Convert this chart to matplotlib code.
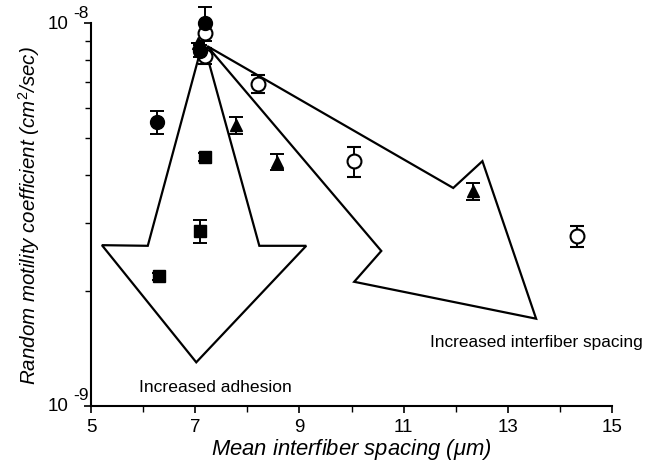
import numpy as np
import matplotlib
matplotlib.use("Agg")
import matplotlib.pyplot as plt
from matplotlib.patches import Polygon

plt.rcParams['font.family'] = ['Liberation Sans', 'DejaVu Sans']
plt.rcParams['mathtext.fontset'] = 'custom'
plt.rcParams['mathtext.rm'] = 'Liberation Sans'
plt.rcParams['mathtext.it'] = 'Liberation Sans:italic'

# datos (x en um, y en cm^2/sec)
circ_lleno_x = [6.27, 7.19, 7.09]
circ_lleno_y = [5.51e-9, 1.0e-8, 8.45e-9]
circ_lleno_err = [0.37e-9, 1.0e-9, 0.3e-9]

cuad_x = [7.19, 7.09, 6.30]
cuad_y = [4.47e-9, 2.86e-9, 2.18e-9]
cuad_err = [0.1e-9, 0.2e-9, 0.05e-9]

circ_vacio_x = [7.19, 7.19, 8.20, 10.05, 14.33]
circ_vacio_y = [9.42e-9, 8.2e-9, 6.93e-9, 4.36e-9, 2.78e-9]
circ_vacio_err = [0.0, 0.4e-9, 0.38e-9, 0.4e-9, 0.18e-9]

tri_x = [7.05, 7.78, 8.57, 12.33]
tri_y = [8.9e-9, 5.42e-9, 4.34e-9, 3.64e-9]
tri_err = [0.0, 0.28e-9, 0.2e-9, 0.19e-9]

# flechas (contornos) en coordenadas de datos
flecha_adhesion_x = [7.15, 6.09, 5.21, 7.02, 9.13, 8.23]
flecha_adhesion_y = [8.97e-9, 2.62e-9, 2.63e-9, 1.30e-9, 2.62e-9, 2.62e-9]
flecha_espaciado_x = [7.23, 10.57, 10.05, 13.54, 12.51, 11.95]
flecha_espaciado_y = [8.71e-9, 2.54e-9, 2.11e-9, 1.69e-9, 4.36e-9, 3.71e-9]

y_ticks = [1e-9, 1e-8]
y_exponentes = ['-9', '-8']

fig = plt.figure(figsize=(6.64, 4.64), dpi=100)
ax = fig.add_axes([0.137, 0.123, 0.785, 0.825])

ax.add_patch(Polygon(np.column_stack([flecha_adhesion_x, flecha_adhesion_y]),
                     closed=True, fill=False, ec='black', lw=1.6, zorder=2))
ax.add_patch(Polygon(np.column_stack([flecha_espaciado_x, flecha_espaciado_y]),
                     closed=True, fill=False, ec='black', lw=1.6, zorder=2))

estilo = dict(ls='none', ecolor='black', elinewidth=1.4, capsize=5, capthick=1.4, clip_on=False, zorder=3)
ax.errorbar(circ_vacio_x, circ_vacio_y, yerr=circ_vacio_err, fmt='o', mfc='white', mec='black',
            mew=1.5, ms=10, **estilo)
ax.errorbar(tri_x, tri_y, yerr=tri_err, fmt='^', color='black', ms=9, **estilo)
ax.errorbar(cuad_x, cuad_y, yerr=cuad_err, fmt='s', color='black', ms=9, **estilo)
ax.errorbar(circ_lleno_x, circ_lleno_y, yerr=circ_lleno_err, fmt='o', color='black', ms=10, **estilo)

ax.text(7.38, 1.127e-9, "Increased adhesion", ha='center', va='center', fontsize=12.6)
ax.text(13.54, 1.47e-9, "Increased interfiber spacing", ha='center', va='center', fontsize=12.4)

ax.set_yscale('log')
ax.set_xlim(5, 15)
ax.set_ylim(1e-9, 1e-8)
ax.set_xticks([5, 7, 9, 11, 13, 15])
ax.set_xticks([6, 8, 10, 12, 14], minor=True)
ax.set_yticks(y_ticks)
ax.set_yticklabels([])
ax.tick_params(axis='both', which='major', labelsize=13.5, length=5, width=1.2)
ax.tick_params(axis='both', which='minor', length=4, width=1.0)
ax.tick_params(axis='y', which='minor', labelleft=False)

# etiquetas 10 con exponente grande, como en el original
for v, e in zip(y_ticks, y_exponentes):
    ax.annotate("10", xy=(0, v), xycoords=('axes fraction', 'data'), xytext=(-16, 0),
                textcoords='offset points', ha='right', va='center', fontsize=13.5)
    ax.annotate(e, xy=(0, v), xycoords=('axes fraction', 'data'), xytext=(-13, 8),
                textcoords='offset points', ha='left', va='center', fontsize=12.5)

ax.spines['top'].set_visible(False)
ax.spines['right'].set_visible(False)
ax.spines['left'].set_linewidth(1.5)
ax.spines['bottom'].set_linewidth(1.5)

ax.set_xlabel(r"Mean interfiber spacing ($\mu$m)", fontsize=15.8, style='italic', labelpad=1)
ax.set_ylabel(r"Random motility coefficient (cm$^2$/sec)", fontsize=14.8, style='italic', labelpad=27)

fig.savefig("out.png", dpi=100)
